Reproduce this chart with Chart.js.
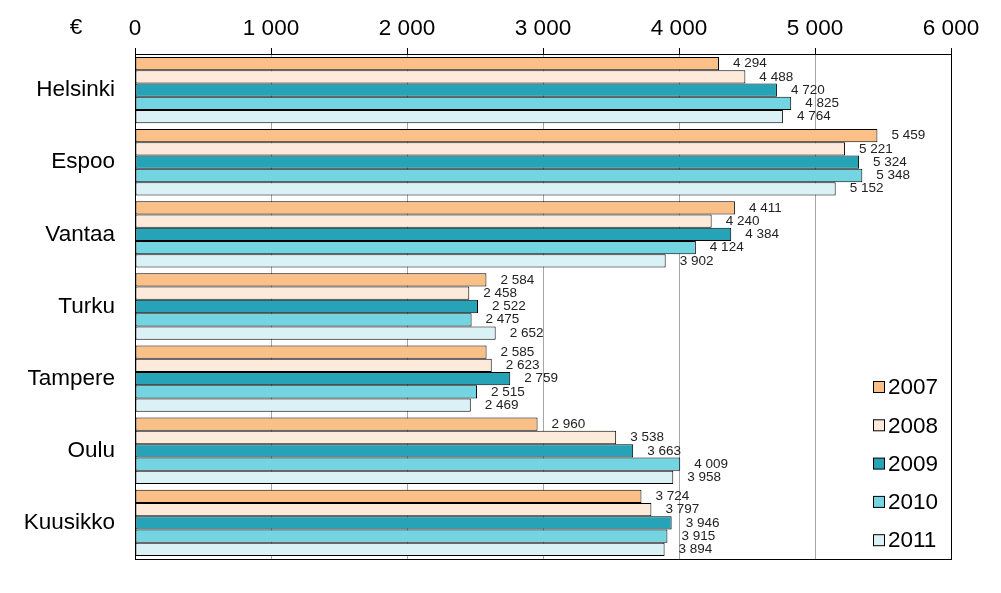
<!DOCTYPE html>
<html>
<head>
<meta charset="utf-8">
<script src="https://cdn.jsdelivr.net/npm/chart.js@4/dist/chart.umd.min.js"></script>
<style>
  html, body { margin: 0; padding: 0; background: #fff; }
  #wrap { width: 1001px; height: 593px; position: relative; }
</style>
</head>
<body>
<div id="wrap"><canvas id="costChart"></canvas></div>
<script>
const cities = ['Helsinki', 'Espoo', 'Vantaa', 'Turku', 'Tampere', 'Oulu', 'Kuusikko'];
const years = ['2007', '2008', '2009', '2010', '2011'];
const v2007 = [4294, 5459, 4411, 2584, 2585, 2960, 3724];
const v2008 = [4488, 5221, 4240, 2458, 2623, 3538, 3797];
const v2009 = [4720, 5324, 4384, 2522, 2759, 3663, 3946];
const v2010 = [4825, 5348, 4124, 2475, 2515, 4009, 3915];
const v2011 = [4764, 5152, 3902, 2652, 2469, 3958, 3894];
const xTicks = [0, 1000, 2000, 3000, 4000, 5000, 6000];
const unitLabel = '€';

const colors = ['#fac088', '#fdeada', '#26a3b7', '#73d4e2', '#daf2f5'];
const font = '"Liberation Sans", Arial, sans-serif';

const fmt = (v) => String(v).replace(/\B(?=(\d{3})+(?!\d))/g, ' ');

const valueLabels = {
  id: 'valueLabels',
  afterDatasetsDraw(chart) {
    const ctx = chart.ctx;
    const area = chart.chartArea;
    ctx.save();
    // frame around the plot
    ctx.strokeStyle = '#000';
    ctx.lineWidth = 1;
    ctx.strokeRect(area.left + 0.5, area.top + 0.5, area.right - area.left, area.bottom - area.top);

    ctx.font = '13.5px ' + font;
    ctx.fillStyle = '#222';
    ctx.textAlign = 'left';
    ctx.textBaseline = 'middle';
    chart.data.datasets.forEach((ds, i) => {
      chart.getDatasetMeta(i).data.forEach((bar, j) => {
        ctx.fillText(fmt(ds.data[j]), bar.x + 14, bar.y);
      });
    });

    // legend inside the plot, bottom right
    ctx.font = '22.5px ' + font;
    chart.data.datasets.forEach((ds, i) => {
      const y = 387 + i * 38.3;
      ctx.fillStyle = ds.backgroundColor;
      ctx.fillRect(873.5, y - 5.5, 11, 11);
      ctx.strokeStyle = '#000';
      ctx.strokeRect(873.5, y - 5.5, 11, 11);
      ctx.fillStyle = '#000';
      ctx.fillText(ds.label, 888, y + 1);
    });

    // unit label
    ctx.textAlign = 'center';
    ctx.fillText(unitLabel, 76, 28);
    ctx.restore();
  }
};

new Chart(document.getElementById('costChart'), {
  type: 'bar',
  data: {
    labels: cities,
    datasets: [v2007, v2008, v2009, v2010, v2011].map((data, i) => ({
      label: years[i],
      data,
      backgroundColor: colors[i],
      borderColor: '#000',
      borderWidth: 1,
      borderSkipped: false,
      categoryPercentage: 0.92,
      barPercentage: 1
    }))
  },
  options: {
    indexAxis: 'y',
    responsive: true,
    maintainAspectRatio: false,
    animation: false,
    layout: { padding: { left: 0, right: 50, top: 0, bottom: 34 } },
    plugins: {
      legend: { display: false },
      tooltip: { enabled: false }
    },
    scales: {
      x: {
        position: 'top',
        min: 0,
        max: 6000,
        afterBuildTicks: (s) => { s.ticks = xTicks.map((v) => ({ value: v })); },
        afterFit: (s) => { s.height = 54; },
        ticks: {
          callback: (v) => fmt(v),
          font: { family: font, size: 22.5 },
          color: '#000',
          padding: 6,
          maxRotation: 0
        },
        grid: {
          color: '#a6a6a6',
          tickColor: '#000',
          tickLength: 6
        },
        border: { display: true, color: '#000' }
      },
      y: {
        afterFit: (s) => { s.width = 135; },
        ticks: {
          font: { family: font, size: 22.5 },
          color: '#000',
          padding: 20
        },
        grid: { display: false, drawTicks: false },
        border: { display: true, color: '#000' }
      }
    }
  },
  plugins: [valueLabels]
});
</script>
</body>
</html>
